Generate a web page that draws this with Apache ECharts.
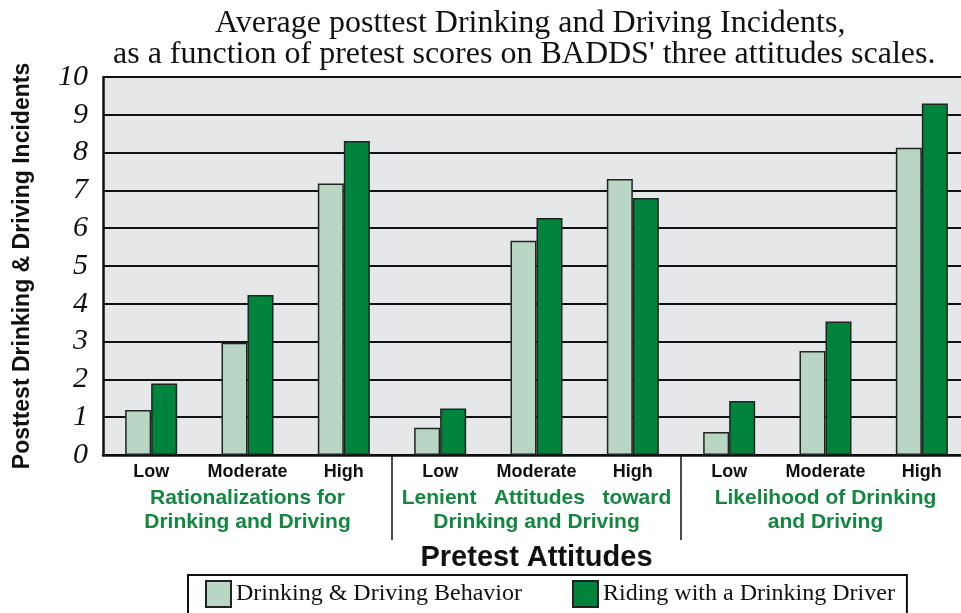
<!DOCTYPE html>
<html>
<head>
<meta charset="utf-8">
<script src="https://cdn.jsdelivr.net/npm/echarts@6/dist/echarts.min.js"></script>
<style>
  html, body { margin: 0; padding: 0; background: #ffffff; }
  #chart { width: 961px; height: 613px; }
</style>
</head>
<body>
<div id="chart"></div>
<script>
// levels on each pretest scale
const levels = ['Low', 'Moderate', 'High', 'Low', 'Moderate', 'High', 'Low', 'Moderate', 'High'];
const scales = [
  'Rationalizations for\nDrinking and Driving',
  'Lenient   Attitudes   toward\nDrinking and Driving',
  'Likelihood of Drinking\nand Driving'
];
const behavior = [1.19, 2.97, 7.18, 0.72, 5.67, 7.30, 0.61, 2.75, 8.13];
const riding = [1.89, 4.23, 8.31, 1.23, 6.27, 6.80, 1.43, 3.53, 9.30];
const yTicks = [0, 1, 2, 3, 4, 5, 6, 7, 8, 9, 10];

const chart = echarts.init(document.getElementById('chart'));

const option = {
  animation: false,
  title: [
    {
      text: 'Average posttest Drinking and Driving Incidents,',
      left: 210,
      top: 3,
      textStyle: { fontFamily: 'Liberation Serif', fontSize: 32, fontWeight: 'normal', color: '#111' }
    },
    {
      text: "as a function of pretest scores on BADDS' three attitudes scales.",
      left: 108,
      top: 34,
      textStyle: { fontFamily: 'Liberation Serif', fontSize: 32, fontWeight: 'normal', color: '#111' }
    }
  ],
  legend: {
    left: 188,
    top: 575,
    data: ['Drinking & Driving Behavior', 'Riding with a Drinking Driver'],
    icon: 'rect',
    itemWidth: 25,
    itemHeight: 26,
    itemGap: 50,
    padding: [5, 12, 6, 17],
    borderColor: '#111',
    borderWidth: 2,
    textStyle: { fontFamily: 'Liberation Serif', fontSize: 24, color: '#111' }
  },
  grid: {
    left: 103,
    top: 77,
    width: 867,
    bottom: 158,
    outerBoundsMode: 'none',
    show: true,
    backgroundColor: '#e6e7e9',
    borderWidth: 0
  },
  xAxis: [
    {
      type: 'category',
      data: levels,
      axisLine: { lineStyle: { color: '#111', width: 2.5 } },
      axisTick: { show: false },
      axisLabel: {
        interval: 0,
        margin: 8,
        fontFamily: 'Liberation Sans',
        fontWeight: 'bold',
        fontSize: 18,
        color: '#111'
      },
      name: 'Pretest Attitudes',
      nameLocation: 'middle',
      nameGap: 88,
      nameTextStyle: { fontFamily: 'Liberation Sans', fontWeight: 'bold', fontSize: 29, color: '#111' }
    },
    {
      type: 'category',
      data: scales,
      position: 'bottom',
      axisLine: { show: false },
      axisTick: {
        show: true,
        length: 85,
        interval: function (i) { return i > 0 && i < 3; },
        lineStyle: { color: '#111', width: 1.5 }
      },
      axisLabel: {
        interval: 0,
        margin: 31,
        lineHeight: 24,
        fontFamily: 'Liberation Sans',
        fontWeight: 'bold',
        fontSize: 21,
        color: '#12873f'
      }
    }
  ],
  yAxis: {
    type: 'value',
    min: 0,
    max: 10,
    interval: 1,
    axisLine: { show: true, lineStyle: { color: '#111', width: 2.5 } },
    axisTick: { show: false },
    axisLabel: {
      margin: 15,
      fontFamily: 'Liberation Serif',
      fontStyle: 'italic',
      fontSize: 30,
      color: '#111',
      formatter: function (v) { return yTicks.indexOf(v) >= 0 ? String(v) : ''; }
    },
    splitLine: { lineStyle: { color: '#111', width: 2 } },
    name: 'Posttest Drinking & Driving Incidents',
    nameLocation: 'middle',
    nameGap: 69,
    nameTextStyle: { fontFamily: 'Liberation Sans', fontWeight: 'bold', fontSize: 23, color: '#111' }
  },
  series: [
    {
      name: 'Drinking & Driving Behavior',
      type: 'bar',
      data: behavior,
      barWidth: 26,
      barGap: '0%',
      itemStyle: { color: '#b8d6c1', borderColor: '#222', borderWidth: 1.5 }
    },
    {
      name: 'Riding with a Drinking Driver',
      type: 'bar',
      data: riding,
      barWidth: 26,
      barGap: '0%',
      itemStyle: { color: '#00833b', borderColor: '#222', borderWidth: 1.5 }
    }
  ]
};

chart.setOption(option);
</script>
</body>
</html>
